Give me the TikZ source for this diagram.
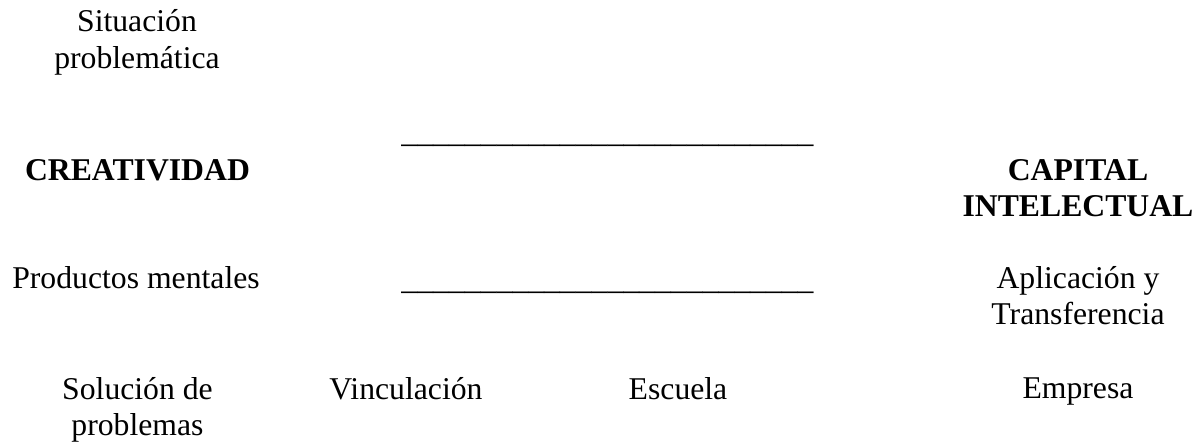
\documentclass[tikz,border=0pt]{standalone}
\usepackage{fontspec}
\setmainfont{Liberation Serif}
\begin{document}
\begin{tikzpicture}[x=1pt,y=-1pt,
  lbl/.style={anchor=base,inner sep=0pt,align=center,
    font=\fontsize{31.7}{36.8}\selectfont},
  bold/.style={lbl,font=\fontsize{31.7}{36.8}\selectfont\bfseries}]
\useasboundingbox[fill=white] (0,0) rectangle (1199,444);
% multi-line nodes are anchored at the baseline of their last line
\node[lbl]  (sit)   at (137,68.8)   {Situación\\problemática};
\node[bold] (creat) at (137.5,180)  {CREATIVIDAD};
\node[lbl]  (line1) at (607.5,142.5) {\_\_\_\_\_\_\_\_\_\_\_\_\_\_\_\_\_\_\_\_\_\_\_\_\_\_};
\node[bold] (cap)   at (1078,216.8) {CAPITAL\\INTELECTUAL};
\node[lbl]  (prod)  at (136,288)    {Productos mentales};
\node[lbl]  (line2) at (607.5,289.5) {\_\_\_\_\_\_\_\_\_\_\_\_\_\_\_\_\_\_\_\_\_\_\_\_\_\_};
\node[lbl]  (apl)   at (1078,324.8) {Aplicación y\\Transferencia};
\node[lbl]  (sol)   at (137.5,435.8) {Solución de\\problemas};
\node[lbl]  (vinc)  at (406,399)    {Vinculación};
\node[lbl]  (esc)   at (678,399)    {Escuela};
\node[lbl]  (emp)   at (1078,398)   {Empresa};
\end{tikzpicture}
\end{document}
